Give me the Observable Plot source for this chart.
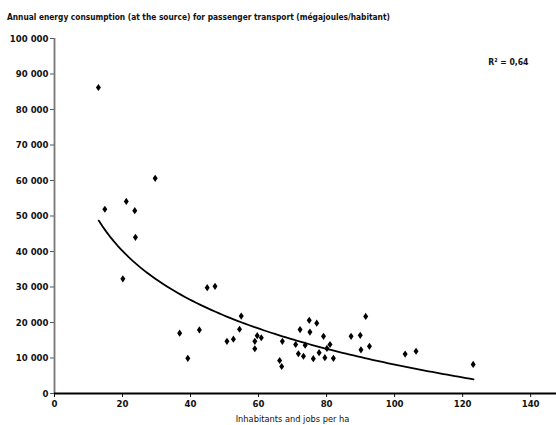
<!DOCTYPE html>
<html><head><meta charset="utf-8">
<script src="https://cdn.jsdelivr.net/npm/d3@7"></script>
<script src="https://cdn.jsdelivr.net/npm/@observablehq/plot@0.6"></script>
<style>
body{margin:0;background:#fff;width:556px;height:425px;overflow:hidden}
#title{height:28px;box-sizing:border-box;padding:11px 0 0 7px;font:bold 8.3px "DejaVu Sans Condensed";color:#111;white-space:nowrap;line-height:12px}
</style></head><body>
<div id="title">Annual energy consumption (at the source) for passenger transport (mégajoules/habitant)</div>
<div id="chart"></div>
<script>
// Inhabitants and jobs per ha
const density = [12.9,14.8,20.1,21.1,23.6,23.8,29.6,36.8,39.2,42.6,44.9,47.2,50.7,52.6,54.4,54.9,58.9,58.9,59.6,60.8,66.2,66.8,67.0,70.9,71.7,72.2,73.2,73.7,74.9,75.1,76.1,77.1,77.8,79.1,79.5,80.1,81.0,82.0,87.2,89.9,90.1,91.5,92.6,103.1,106.3,123.1];
// Annual energy consumption (MJ per inhabitant)
const energy = [86200,51900,32300,54100,51500,44000,60600,17000,9900,17900,29800,30200,14700,15300,18100,21800,14700,12600,16300,15700,9300,7600,14700,13800,11200,18000,10500,13600,20600,17300,9800,19800,11500,16100,10100,12700,13800,9900,16100,16400,12300,21700,13300,11100,11900,8200];
const yTicks = [0,10000,20000,30000,40000,50000,60000,70000,80000,90000,100000];
const xTicks = [0,20,40,60,80,100,120,140];
const r2Label = "R² = 0,64";
const xLabel = "Inhabitants and jobs per ha";
// logarithmic trend line y = a·ln(x) + b, coefficients
const trendA = -19880;
const trendB = 99700;
const trendRange = [13, 123.2];

const pts = density.map((x, i) => ({x, y: energy[i]}));

const trend = d3.range(0, 101).map(k => {
  const x = trendRange[0] + (trendRange[1] - trendRange[0]) * k / 100;
  return {x, y: trendB + trendA * Math.log(x)};
});

const tallDiamond = {
  draw(ctx, size) {
    const r = Math.sqrt(size / Math.PI);
    const w = r * 1.25, h = r * 1.8;
    ctx.moveTo(0, -h); ctx.lineTo(w, 0); ctx.lineTo(0, h); ctx.lineTo(-w, 0); ctx.closePath();
  }
};

const fmt = d => d3.format(",")(d).replace(/,/g, " ");

const chart = Plot.plot({
  width: 556,
  height: 397,
  marginTop: 10,
  marginLeft: 54,
  marginRight: 0,
  marginBottom: 32,
  style: {fontFamily: "DejaVu Sans Condensed", fontSize: "9.5px", fontWeight: "bold", color: "#111", background: "#fff"},
  x: {domain: [0, 147.6]},
  y: {domain: [0, 100000]},
  marks: [
    Plot.axisY({ticks: yTicks, tickFormat: fmt, tickSize: 4, tickPadding: 2, label: null, stroke: "#555"}),
    Plot.axisX({ticks: xTicks, tickSize: 4, tickPadding: 3, label: null}),
    Plot.ruleX([0], {stroke: "#777", strokeWidth: 1.8}),
    Plot.ruleY([0], {stroke: "#000", strokeWidth: 2.2}),
    Plot.line(trend, {x: "x", y: "y", stroke: "#000", strokeWidth: 1.8}),
    Plot.dot(pts, {x: "x", y: "y", r: 2, symbol: tallDiamond, fill: "#000", stroke: "none"}),
    Plot.text([r2Label], {text: d => d, frameAnchor: "top-right", textAnchor: "end", dx: -28, dy: 20, fontSize: 8.6}),
    Plot.text([xLabel], {text: d => d, frameAnchor: "bottom", dx: -13, dy: 28, fontSize: 9.2, fontWeight: "normal"})
  ]
});
document.getElementById("chart").append(chart);
</script>
</body></html>
